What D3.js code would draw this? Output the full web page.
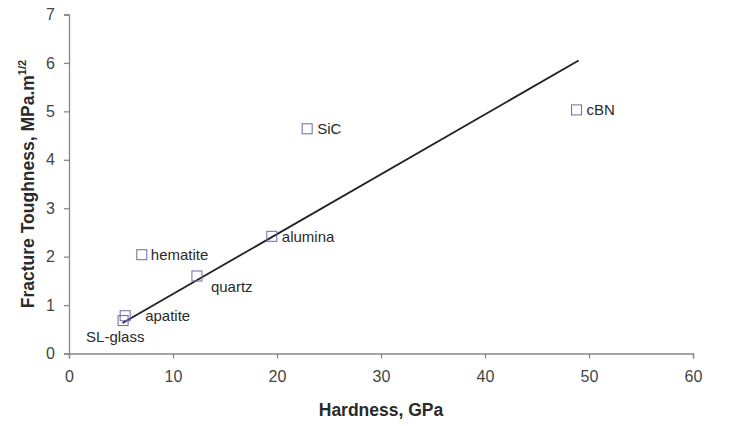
<!DOCTYPE html>
<html><head><meta charset="utf-8">
<script src="https://cdn.jsdelivr.net/npm/d3@7"></script>
<style>body{margin:0;background:#fff;} text{font-family:"Liberation Sans",Arial,sans-serif;}</style>
</head><body>
<svg id="c" width="734" height="426"></svg>
<script>
const materials = ["SL-glass","apatite","hematite","quartz","alumina","SiC","cBN"];
const hardness = [5.2, 5.4, 7.0, 12.3, 19.5, 22.9, 48.8];
const toughness = [0.68, 0.78, 2.04, 1.6, 2.42, 4.64, 5.03];
const fitX = [5.15, 49.0];
const fitY = [0.63, 6.05];
const xTicks = [0,10,20,30,40,50,60];
const yTicks = [0,1,2,3,4,5,6,7];
// label offsets (dx, dy) relative to marker, in px
const labelDx = [-37, 20, 9, 14, 10, 10, 10];
const labelDy = [16, 0, 0, 11, 0, 0, 0];

const svg = d3.select("#c");
const m = {l:69, r:41, t:14.5, b:72.5};
const W = 734, H = 426;
const x = d3.scaleLinear().domain([0,60]).range([m.l, W-m.r]);
const y = d3.scaleLinear().domain([0,7]).range([H-m.b, m.t]);

const gx = svg.append("g").attr("transform",`translate(0,${H-m.b})`)
  .call(d3.axisBottom(x).tickValues(xTicks).tickSize(5).tickPadding(12).tickFormat(d3.format("d")));
const gy = svg.append("g").attr("transform",`translate(${m.l},0)`)
  .call(d3.axisLeft(y).tickValues(yTicks).tickSize(5).tickPadding(9).tickFormat(d3.format("d")));
[gx,gy].forEach(g=>{
  g.selectAll("path").attr("stroke","#888").attr("stroke-width",1.3);
  g.selectAll("line").attr("stroke","#888").attr("stroke-width",1.3);
  g.selectAll("text").attr("font-size",16).attr("fill","#444").attr("font-family","Liberation Sans, Arial, sans-serif");
});

// fit line
svg.append("line")
  .attr("x1",x(fitX[0])).attr("y1",y(fitY[0]))
  .attr("x2",x(fitX[1])).attr("y2",y(fitY[1]))
  .attr("stroke","#222").attr("stroke-width",1.8);

const pts = materials.map((n,i)=>({n, h:hardness[i], t:toughness[i], dx:labelDx[i], dy:labelDy[i]}));
svg.selectAll("rect.pt").data(pts).enter().append("rect")
  .attr("class","pt")
  .attr("x",d=>x(d.h)-5).attr("y",d=>y(d.t)-5)
  .attr("width",10).attr("height",10)
  .attr("fill","none").attr("stroke","#6b6ba8").attr("stroke-width",1);

svg.selectAll("text.lab").data(pts).enter().append("text")
  .attr("class","lab")
  .attr("x",d=>x(d.h)+d.dx).attr("y",d=>y(d.t)+d.dy)
  .attr("dy","0.35em").attr("text-anchor","start")
  .attr("font-size",15).attr("fill","#2a2a2a")
  .text(d=>d.n);

// axis titles
svg.append("text").attr("x",(m.l+W-m.r)/2).attr("y",416)
  .attr("text-anchor","middle").attr("font-size",17.5).attr("font-weight","bold").attr("fill","#2a2a2a")
  .text("Hardness, GPa");
const yt = svg.append("text").attr("transform",`translate(34,${(m.t+H-m.b)/2}) rotate(-90)`)
  .attr("text-anchor","middle").attr("font-size",17.5).attr("font-weight","bold").attr("fill","#2a2a2a");
yt.append("tspan").text("Fracture Toughness, MPa.m");
yt.append("tspan").attr("dy",-8).attr("font-size",11).text("1/2");
</script>
</body></html>
